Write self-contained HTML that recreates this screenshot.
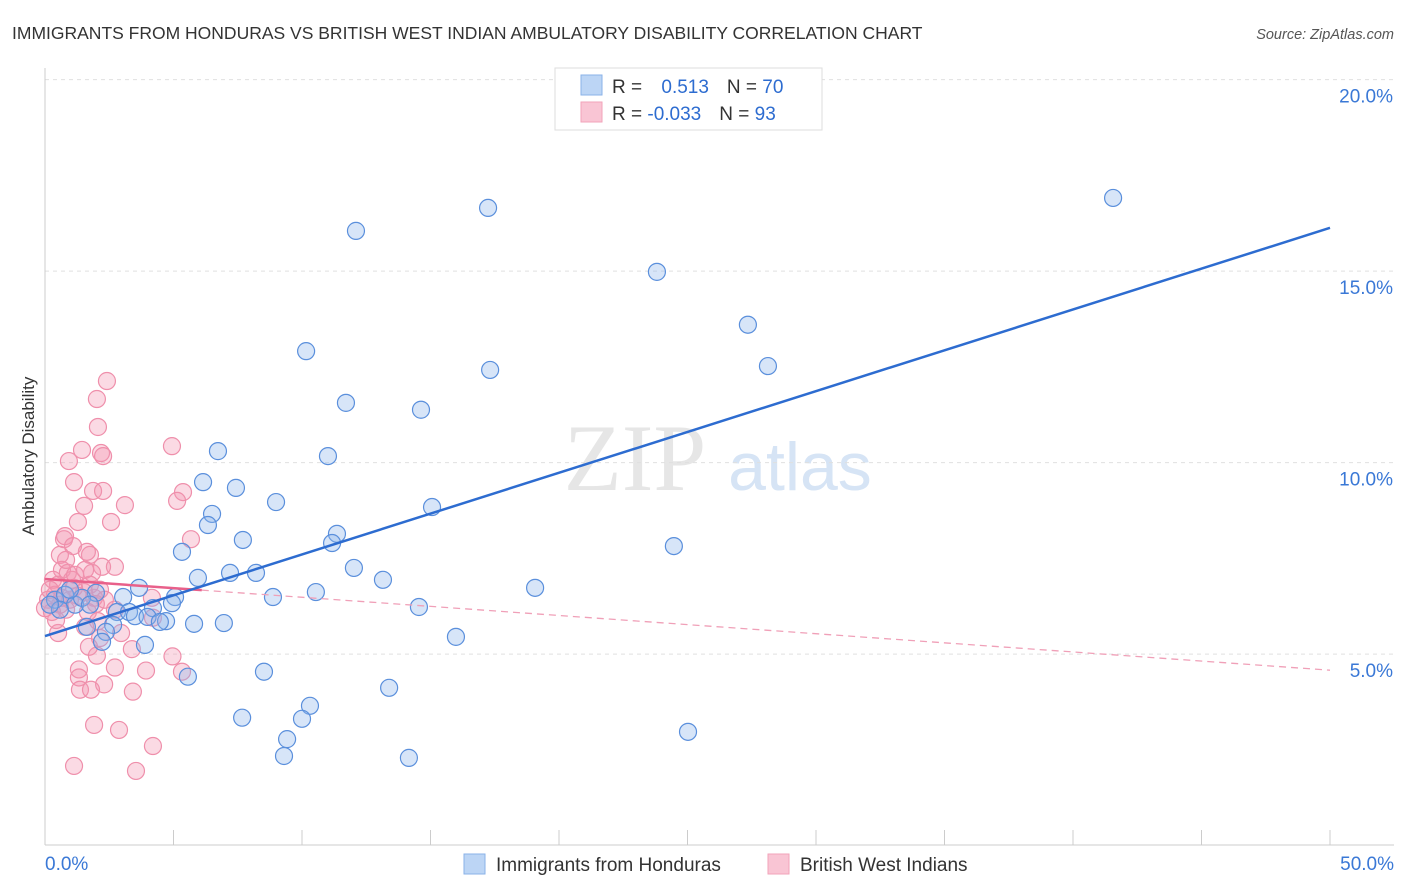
<!DOCTYPE html>
<html><head><meta charset="utf-8"><style>
body{margin:0;background:#fff;font-family:"Liberation Sans",sans-serif}
svg{display:block}
</style></head><body>
<svg id="c" width="1406" height="892">
<text x="12" y="39" font-size="17.5" fill="#333">IMMIGRANTS FROM HONDURAS VS BRITISH WEST INDIAN AMBULATORY DISABILITY CORRELATION CHART</text>
<text x="1394" y="39" font-size="14.5" fill="#555" font-style="italic" text-anchor="end">Source: ZipAtlas.com</text>
<text x="34" y="456" font-size="17" fill="#333" text-anchor="middle" transform="rotate(-90 34 456)">Ambulatory Disability</text>
<g><text x="635" y="490" font-size="95" fill="#e6e6e6" text-anchor="middle" font-family="Liberation Serif,serif">ZIP</text><text x="800" y="490" font-size="68" fill="#d6e4f5" text-anchor="middle">atlas</text></g>
<g id="grid"></g><g id="axes"></g><g id="pinkpts"></g><g id="bluepts"></g><g id="trends"></g>
<g>
<rect x="555" y="68" width="267" height="62" fill="#fff" stroke="#ddd"/>
<rect x="581" y="75" width="21" height="20" fill="#bcd5f5" stroke="#8ab2e8"/>
<rect x="581" y="102" width="21" height="20" fill="#f9c5d4" stroke="#f2a3ba"/>
<text x="612" y="93" font-size="19" fill="#333">R = <tspan fill="#2d6cd0" dx="14">0.513</tspan><tspan fill="#333" dx="18">N = </tspan><tspan fill="#2d6cd0">70</tspan></text>
<text x="612" y="120" font-size="19" fill="#333">R = <tspan fill="#2d6cd0">-0.033</tspan><tspan fill="#333" dx="18">N = </tspan><tspan fill="#2d6cd0">93</tspan></text>
</g>
<g>
<rect x="464" y="854" width="21" height="20" fill="#bcd5f5" stroke="#8ab2e8"/>
<text x="496" y="871" font-size="19" fill="#333">Immigrants from Honduras</text>
<rect x="768" y="854" width="21" height="20" fill="#f9c5d4" stroke="#f2a3ba"/>
<text x="800" y="871" font-size="19" fill="#333">British West Indians</text>
</g>
</svg>
<script>
const yTicks=[5,10,15,20];
const xTickLabels=["0.0%","50.0%"];
const blueX=[41.56,17.24,12.10,23.81,27.35,10.16,17.32,28.13,11.71,14.63,6.73,11.01,6.15,7.43,8.99,15.06,6.50,6.34,11.36,7.70,11.17,24.47,5.33,12.02,7.20,8.21,5.95,13.15,19.07,3.66,10.54,8.87,1.98,3.04,5.06,4.94,4.20,2.80,3.27,14.55,3.50,3.99,4.71,5.80,6.96,4.47,2.65,1.63,2.37,15.99,2.22,3.89,8.52,5.56,13.39,10.31,7.67,10.00,25.02,9.42,9.30,14.16,0.39,0.78,1.17,1.44,0.58,0.97,1.75,0.19];
const blueY=[16.91,16.65,16.05,14.98,13.60,12.91,12.42,12.52,11.56,11.38,10.30,10.17,9.49,9.34,8.97,8.84,8.66,8.37,8.14,7.98,7.90,7.82,7.67,7.25,7.12,7.12,6.99,6.94,6.73,6.73,6.62,6.49,6.60,6.49,6.49,6.33,6.20,6.10,6.10,6.23,5.99,5.97,5.86,5.79,5.81,5.84,5.76,5.71,5.58,5.45,5.32,5.24,4.54,4.41,4.12,3.65,3.34,3.31,2.97,2.78,2.34,2.29,6.42,6.55,6.29,6.47,6.16,6.68,6.29,6.29];
const pinkX=[2.41,2.02,2.06,1.44,4.94,2.18,2.26,0.93,1.13,1.87,2.26,5.37,5.14,1.52,3.11,2.57,1.28,5.68,0.74,0.78,0.58,1.09,1.75,1.63,2.22,2.72,0.66,0.89,1.83,0.31,1.13,1.05,1.52,1.91,0.39,0.12,0.58,0.97,1.28,0.82,0.27,0,0.51,1.75,2.14,1.67,4.16,1.98,4.20,2.06,2.96,0.51,1.56,2.14,3.38,4.96,2.02,1.71,1.32,1.32,2.30,2.72,1.36,3.42,3.93,5.33,1.79,1.91,2.88,4.20,1.13,3.54,0.19,0.66,0.43,1.17,1.56,0.82,2.33,2.72];
const pinkY=[12.13,11.66,10.93,10.33,10.43,10.25,10.17,10.04,9.49,9.26,9.26,9.23,9.00,8.87,8.89,8.45,8.45,8.00,8.00,8.08,7.59,7.82,7.59,7.67,7.28,7.28,7.20,7.12,7.12,6.94,6.73,6.94,6.62,6.47,6.55,6.42,6.29,6.42,6.52,6.16,6.10,6.20,6.81,6.81,6.68,6.10,6.47,6.31,5.95,5.86,5.55,5.55,5.71,5.42,5.13,4.94,4.96,5.19,4.60,4.39,4.21,4.65,4.07,4.02,4.57,4.54,4.07,3.15,3.02,2.60,2.08,1.95,6.68,6.47,5.89,7.07,7.20,7.46,6.42,6.16];
const blueTrend=[5.47,16.13];
const pinkTrend=[6.96,4.58];
const pinkSolidEnd=6.1;
const NS="http://www.w3.org/2000/svg";
const sx=v=>45+v*25.7, sy=v=>845.6-v*38.3;
function mk(tag,parent,attrs){const e=document.createElementNS(NS,tag);for(const k in attrs)e.setAttribute(k,attrs[k]);document.getElementById(parent).appendChild(e);return e;}
yTicks.forEach(t=>{
 const g=mk('line','grid',{x1:45,x2:1394,y1:sy(t),y2:sy(t),stroke:'#e0e0e0','stroke-dasharray':'4,4'});
 
 
 const l=mk('text','grid',{x:1393,y:sy(t)+23,'font-size':19,fill:'#3a78d6','text-anchor':'end'});
 l.textContent=t.toFixed(1)+'%';
 
 
});
const ya=mk('line','axes',{x1:45,x2:45,y1:68,y2:845,stroke:'#ccc'});


const xa=mk('line','axes',{x1:45,x2:1394,y1:845,y2:845,stroke:'#ccc'});


for(let i=0;i<=10;i++){const t=mk('line','axes',{x1:sx(i*5),x2:sx(i*5),y1:830,y2:845,stroke:'#ccc'});
 
 }
[[0,'start',45],[50,'end',1394]].forEach((d,i)=>{const l=mk('text','axes',{x:d[2],y:870,'font-size':19,fill:'#3a78d6','text-anchor':d[1]});l.textContent=xTickLabels[i];
 
 });
pinkX.forEach((x,i)=>{const c=mk('circle','pinkpts',{cx:sx(x),cy:sy(pinkY[i]),r:8.5,fill:'rgba(244,150,178,0.35)',stroke:'#ef8fab','stroke-width':1.2});
 
 });
blueX.forEach((x,i)=>{const c=mk('circle','bluepts',{cx:sx(x),cy:sy(blueY[i]),r:8.5,fill:'rgba(140,180,235,0.35)',stroke:'#5a8fdc','stroke-width':1.2});
 
 });
const pv=x=>pinkTrend[0]+(pinkTrend[1]-pinkTrend[0])*x/50;
const pd=mk('line','trends',{x1:sx(pinkSolidEnd),y1:sy(pv(pinkSolidEnd)),x2:sx(50),y2:sy(pv(50)),stroke:'#f0a0b8','stroke-width':1.3,'stroke-dasharray':'7,5'});


const ps=mk('line','trends',{x1:sx(0),y1:sy(pv(0)),x2:sx(pinkSolidEnd),y2:sy(pv(pinkSolidEnd)),stroke:'#e8608a','stroke-width':2.5});


const bt=mk('line','trends',{x1:sx(0),y1:sy(blueTrend[0]),x2:sx(50),y2:sy(blueTrend[1]),stroke:'#2d6cd0','stroke-width':2.5});


</script>
</body></html>
